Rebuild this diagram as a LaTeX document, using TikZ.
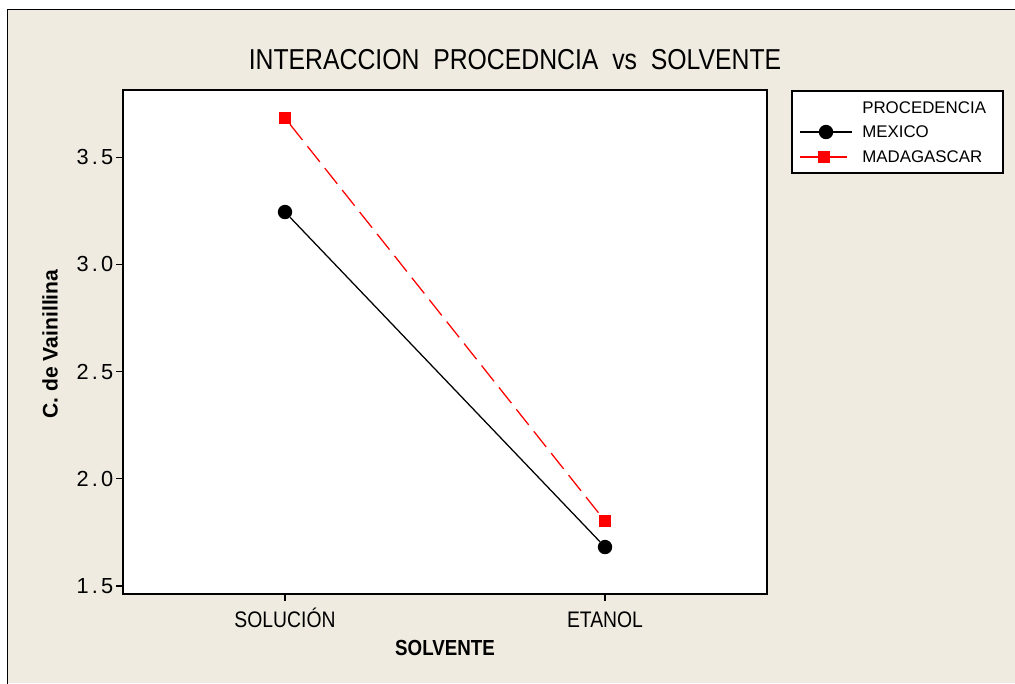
\documentclass[tikz,border=0pt]{standalone}
\usepackage{fontspec}
\setmainfont{Liberation Sans}
\newfontfamily\narrowfont[FakeStretch=0.86]{Liberation Sans}
\newfontfamily\spacedfont[LetterSpace=15]{Liberation Sans}
\usetikzlibrary{positioning}
\definecolor{panel}{RGB}{239,235,225}

\begin{document}
\begin{tikzpicture}[x=0.25mm,y=-0.25mm,
	ticklab/.style={font=\narrowfont\fontsize{16}{19}\selectfont,inner sep=2pt,text height=2.9mm,text depth=0.4mm},
	ytlab/.style={font=\spacedfont\fontsize{15.5}{19}\selectfont,inner sep=1.5pt},
	axlab/.style={font=\narrowfont\fontsize{15.5}{18}\selectfont\bfseries},
	legtxt/.style={font=\fontsize{12}{14}\selectfont,anchor=west,inner sep=0pt},
	mexpt/.style={circle,fill=black,inner sep=0pt,minimum size=3.6mm},
	madpt/.style={rectangle,fill=red,inner sep=0pt,minimum size=3mm},
	mexline/.style={black,line width=0.9pt},
	madline/.style={red,line width=0.9pt,dash pattern=on 5mm off 2mm}]
	\clip (0,0) rectangle (1015,683);
	\fill[panel] (7,9) rectangle (1015,683);
	\draw[line width=0.7pt] (7,690) |- (1020,9);
	\node (title) at (515,60) {\narrowfont\fontsize{20.5}{25}\selectfont INTERACCION\ \ PROCEDNCIA\ \ vs\ \ SOLVENTE};
	\draw[fill=white,line width=1.1pt] (123,90) rectangle (767,594);
	\foreach \v [count=\i] in {1.5,2.0,2.5,3.0,3.5}
		\draw[line width=0.8pt] (123,{586-(\v-1.5)*214.4}) -- (116,{586-(\v-1.5)*214.4})
			node[ytlab,left] (yt\i) {\v};
	\foreach \x/\lab [count=\i] in {285/SOLUCIÓN,605/ETANOL}
		\draw[line width=0.8pt] (\x,594) -- (\x,601) node[ticklab,below=8.5pt] (xt\i) {\lab};
	\node[axlab] (xlab) at (445,648) {SOLVENTE};
	\node[axlab,font=\fontsize{15}{18}\selectfont\bfseries,rotate=90] (ylab) at (50,344) {C. de Vainillina};
	\node[madpt] (mad1) at (285,118) {};
	\node[madpt] (mad2) at (605,521) {};
	\node[mexpt] (mex1) at (285,212) {};
	\node[mexpt] (mex2) at (605,547) {};
	\draw[madline] (mad1) -- (mad2);
	\draw[mexline] (mex1) -- (mex2);
	\draw[fill=white,line width=1.1pt] (792,91) rectangle (1003,173);
	\node[legtxt] (legtitle) at (862,108) {PROCEDENCIA};
	\node[legtxt] (legmex) at (862,132) {MEXICO};
	\node[legtxt] (legmad) at (862,157) {MADAGASCAR};
	\coordinate (mexa) at (800,132);
	\coordinate (mexb) at (852,132);
	\coordinate (mada) at (800,157);
	\coordinate (madb) at (847,157);
	\draw[mexline] (mexa) -- (mexb);
	\draw[red,line width=0.9pt] (mada) -- (madb);
	\node[mexpt] (mexmark) at (826,132) {};
	\node[madpt] (madmark) at (824,157) {};
\end{tikzpicture}
\end{document}
